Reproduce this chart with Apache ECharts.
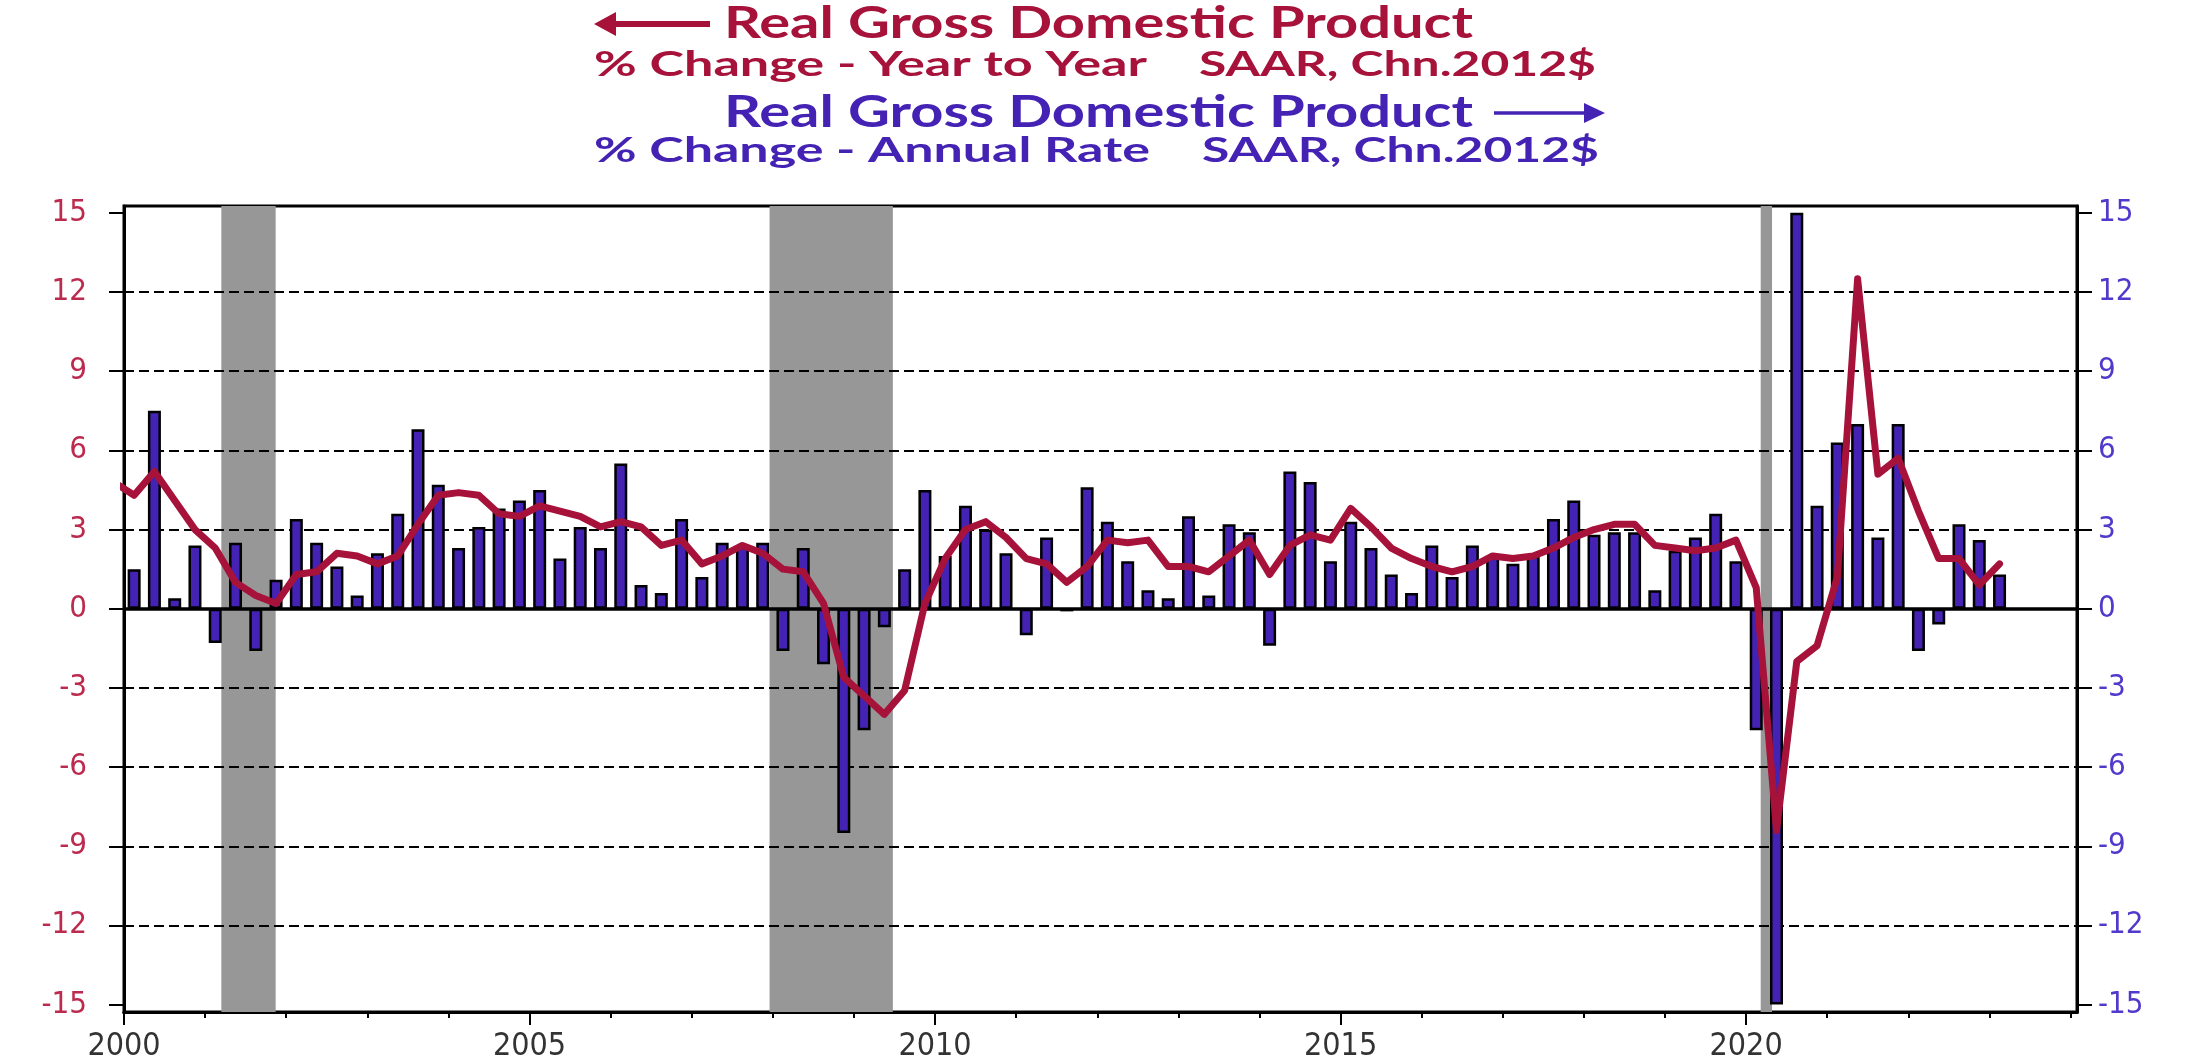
<!DOCTYPE html>
<html>
<head>
<meta charset="utf-8">
<title>Real Gross Domestic Product</title>
<script src="https://cdn.jsdelivr.net/npm/echarts@6.0.0/dist/echarts.min.js"></script>
<style>
  html, body { margin: 0; padding: 0; background: #fff; }
  #main { width: 2211px; height: 1063px; }
</style>
</head>
<body>
<div id="main"></div>
<script>
// quarterly data, first bar = 2000 Q1, last = 2023 Q1
const firstYear = 2000;
// % change - annual rate (right axis), the 2020 Q2/Q3 bars are cut at the scale limit
const annualRate = [
  1.5, 7.5, 0.4, 2.4,     // 2000
  -1.3, 2.5, -1.6, 1.1,   // 2001
  3.4, 2.5, 1.6, 0.5,     // 2002
  2.1, 3.6, 6.8, 4.7,     // 2003
  2.3, 3.1, 3.8, 4.1,     // 2004
  4.5, 1.9, 3.1, 2.3,     // 2005
  5.5, 0.9, 0.6, 3.4,     // 2006
  1.2, 2.5, 2.4, 2.5,     // 2007
  -1.6, 2.3, -2.1, -8.5,  // 2008
  -4.6, -0.7, 1.5, 4.5,   // 2009
  2.0, 3.9, 3.0, 2.1,     // 2010
  -1.0, 2.7, -0.1, 4.6,   // 2011
  3.3, 1.8, 0.7, 0.4,     // 2012
  3.5, 0.5, 3.2, 2.9,     // 2013
  -1.4, 5.2, 4.8, 1.8,    // 2014
  3.3, 2.3, 1.3, 0.6,     // 2015
  2.4, 1.2, 2.4, 2.0,     // 2016
  1.7, 2.0, 3.4, 4.1,     // 2017
  2.8, 2.9, 2.9, 0.7,     // 2018
  2.2, 2.7, 3.6, 1.8,     // 2019
  -4.6, -15, 15, 3.9,     // 2020
  6.3, 7.0, 2.7, 7.0,     // 2021
  -1.6, -0.6, 3.2, 2.6,   // 2022
  1.3                     // 2023
];
// % change - year to year (left axis), starts one quarter earlier (1999 Q4)
const yoyFirstYear = 1999.75;
const yearToYear = [
  4.8,                    // 1999 Q4
  4.3, 5.2, 4.1, 3.0,     // 2000
  2.3, 1.0, 0.5, 0.2,     // 2001
  1.3, 1.4, 2.1, 2.0,     // 2002
  1.7, 2.0, 3.2, 4.3,     // 2003
  4.4, 4.3, 3.6, 3.5,     // 2004
  3.9, 3.7, 3.5, 3.1,     // 2005
  3.3, 3.1, 2.4, 2.6,     // 2006
  1.7, 2.0, 2.4, 2.1,     // 2007
  1.5, 1.4, 0.2, -2.6,    // 2008
  -3.3, -4.0, -3.1, 0.2,  // 2009
  1.9, 3.0, 3.3, 2.7,     // 2010
  1.9, 1.7, 1.0, 1.6,     // 2011
  2.6, 2.5, 2.6, 1.6,     // 2012
  1.6, 1.4, 2.0, 2.6,     // 2013
  1.3, 2.4, 2.8, 2.6,     // 2014
  3.8, 3.1, 2.3, 1.9,     // 2015
  1.6, 1.4, 1.6, 2.0,     // 2016
  1.9, 2.0, 2.3, 2.7,     // 2017
  3.0, 3.2, 3.2, 2.4,     // 2018
  2.3, 2.2, 2.3, 2.6,     // 2019
  0.8, -8.4, -2.0, -1.4,  // 2020
  1.2, 12.5, 5.1, 5.7,    // 2021
  3.7, 1.9, 1.9, 0.9,     // 2022
  1.7                     // 2023
];
// recession shading (start, end) in years
const recessions = [[2001.2, 2001.87], [2007.96, 2009.48], [2020.18, 2020.32]];
const yTicks = [-15, -12, -9, -6, -3, 0, 3, 6, 9, 12, 15];
const dashedLevels = [-12, -9, -6, -3, 3, 6, 9, 12];
const yearLabels = [2000, 2005, 2010, 2015, 2020];
const minorYears = [2001, 2002, 2003, 2004, 2006, 2007, 2008, 2009, 2011, 2012, 2013, 2014,
  2016, 2017, 2018, 2019, 2021, 2022, 2023, 2024];

const RED = '#A6123A';
const BLUE = '#4423B4';
const RED_LABEL = '#BC2A4E';
const BLUE_LABEL = '#5039CB';
const AXIS_FONT = '"DejaVu Sans Condensed", "DejaVu Sans", sans-serif';

const barData = annualRate.map((v, i) => [firstYear + i / 4 + 0.125, v]);
const lineData = yearToYear.map((v, i) => [yoyFirstYear + i / 4 + 0.125, v]);

// title text is stretched to the widths seen in the picture
const ctx = document.createElement('canvas').getContext('2d');
function titleText(text, x, y, width, size, color) {
  const font = 'bold ' + size + 'px Lato, "Noto Sans", sans-serif';
  ctx.font = font;
  const w = ctx.measureText(text).width;
  return {
    type: 'text', x: x, y: y, scaleX: width / w,
    style: { text: text, font: font, fill: color, verticalAlign: 'middle', align: 'left' }
  };
}

const chart = echarts.init(document.getElementById('main'));

const xCommon = {
  type: 'value', min: 2000, max: 2024.08, position: 'bottom',
  splitLine: { show: false },
  axisLine: { onZero: false, lineStyle: { color: '#000', width: 3 } }
};
const yCommon = {
  type: 'value', min: -15.28, max: 15.26,
  splitLine: { show: false },
  axisLine: { show: true, lineStyle: { color: '#000', width: 3 } },
  axisTick: { show: true, length: 15, customValues: yTicks, lineStyle: { color: '#000', width: 2 } }
};

const option = {
  animation: false,
  backgroundColor: '#fff',
  grid: {
    left: 124, right: 134, top: 206, bottom: 51,
    show: true, borderColor: '#000', borderWidth: 3, backgroundColor: 'transparent'
  },
  xAxis: [
    Object.assign({}, xCommon, {
      axisTick: { show: true, length: 13, customValues: yearLabels, lineStyle: { color: '#000', width: 2 } },
      axisLabel: {
        customValues: yearLabels, margin: 19,
        formatter: v => String(v),
        color: '#333', fontSize: 32, fontFamily: AXIS_FONT
      }
    }),
    Object.assign({}, xCommon, {
      axisTick: { show: true, length: 6, customValues: minorYears, lineStyle: { color: '#000', width: 2 } },
      axisLabel: { show: false }
    })
  ],
  yAxis: [
    Object.assign({}, yCommon, {
      position: 'left',
      axisLabel: { customValues: yTicks, margin: 37, color: RED_LABEL, fontSize: 31, fontFamily: AXIS_FONT }
    }),
    Object.assign({}, yCommon, {
      position: 'right',
      axisLabel: { customValues: yTicks, margin: 21, color: BLUE_LABEL, fontSize: 31, fontFamily: AXIS_FONT }
    })
  ],
  series: [
    {
      name: 'Annual Rate',
      type: 'bar',
      xAxisIndex: 0, yAxisIndex: 1,
      data: barData,
      barWidth: 13,
      z: 3,
      itemStyle: { color: BLUE, borderColor: '#000', borderWidth: 2.5 },
      markArea: {
        silent: true, z: 1,
        itemStyle: { color: '#979797' },
        data: recessions.map(r => [{ xAxis: r[0] }, { xAxis: r[1] }])
      },
      markLine: {
        silent: true, z: 2, symbol: 'none', label: { show: false },
        lineStyle: { color: '#000', width: 2, type: [10, 5] },
        data: dashedLevels.map(v => ({ yAxis: v })).concat([
          { yAxis: 0, lineStyle: { color: '#000', width: 3.5, type: 'solid' } }
        ])
      }
    },
    {
      name: 'Year to Year',
      type: 'line',
      xAxisIndex: 0, yAxisIndex: 0,
      data: lineData,
      symbol: 'none',
      z: 4,
      clip: true,
      lineStyle: { color: RED, width: 7, join: 'round', cap: 'round' }
    }
  ],
  graphic: [
    // left arrow, first title
    { type: 'line', shape: { x1: 612, y1: 24, x2: 710, y2: 24 }, style: { stroke: RED, lineWidth: 6 } },
    { type: 'polygon', shape: { points: [[594, 24], [616, 12], [616, 36]] }, style: { fill: RED } },
    titleText('Real Gross Domestic Product', 724, 24, 749, 44, RED),
    titleText('% Change - Year to Year', 594, 65, 553, 35, RED),
    titleText('SAAR, Chn.2012$', 1199, 65, 397, 35, RED),
    titleText('Real Gross Domestic Product', 724, 113, 749, 44, BLUE),
    // right arrow, second title
    { type: 'line', shape: { x1: 1494, y1: 113, x2: 1588, y2: 113 }, style: { stroke: BLUE, lineWidth: 3.5 } },
    { type: 'polygon', shape: { points: [[1605, 113], [1584, 103], [1584, 123]] }, style: { fill: BLUE } },
    titleText('% Change - Annual Rate', 594, 151, 556, 35, BLUE),
    titleText('SAAR, Chn.2012$', 1202, 151, 397, 35, BLUE)
  ]
};

chart.setOption(option);
</script>
</body>
</html>
